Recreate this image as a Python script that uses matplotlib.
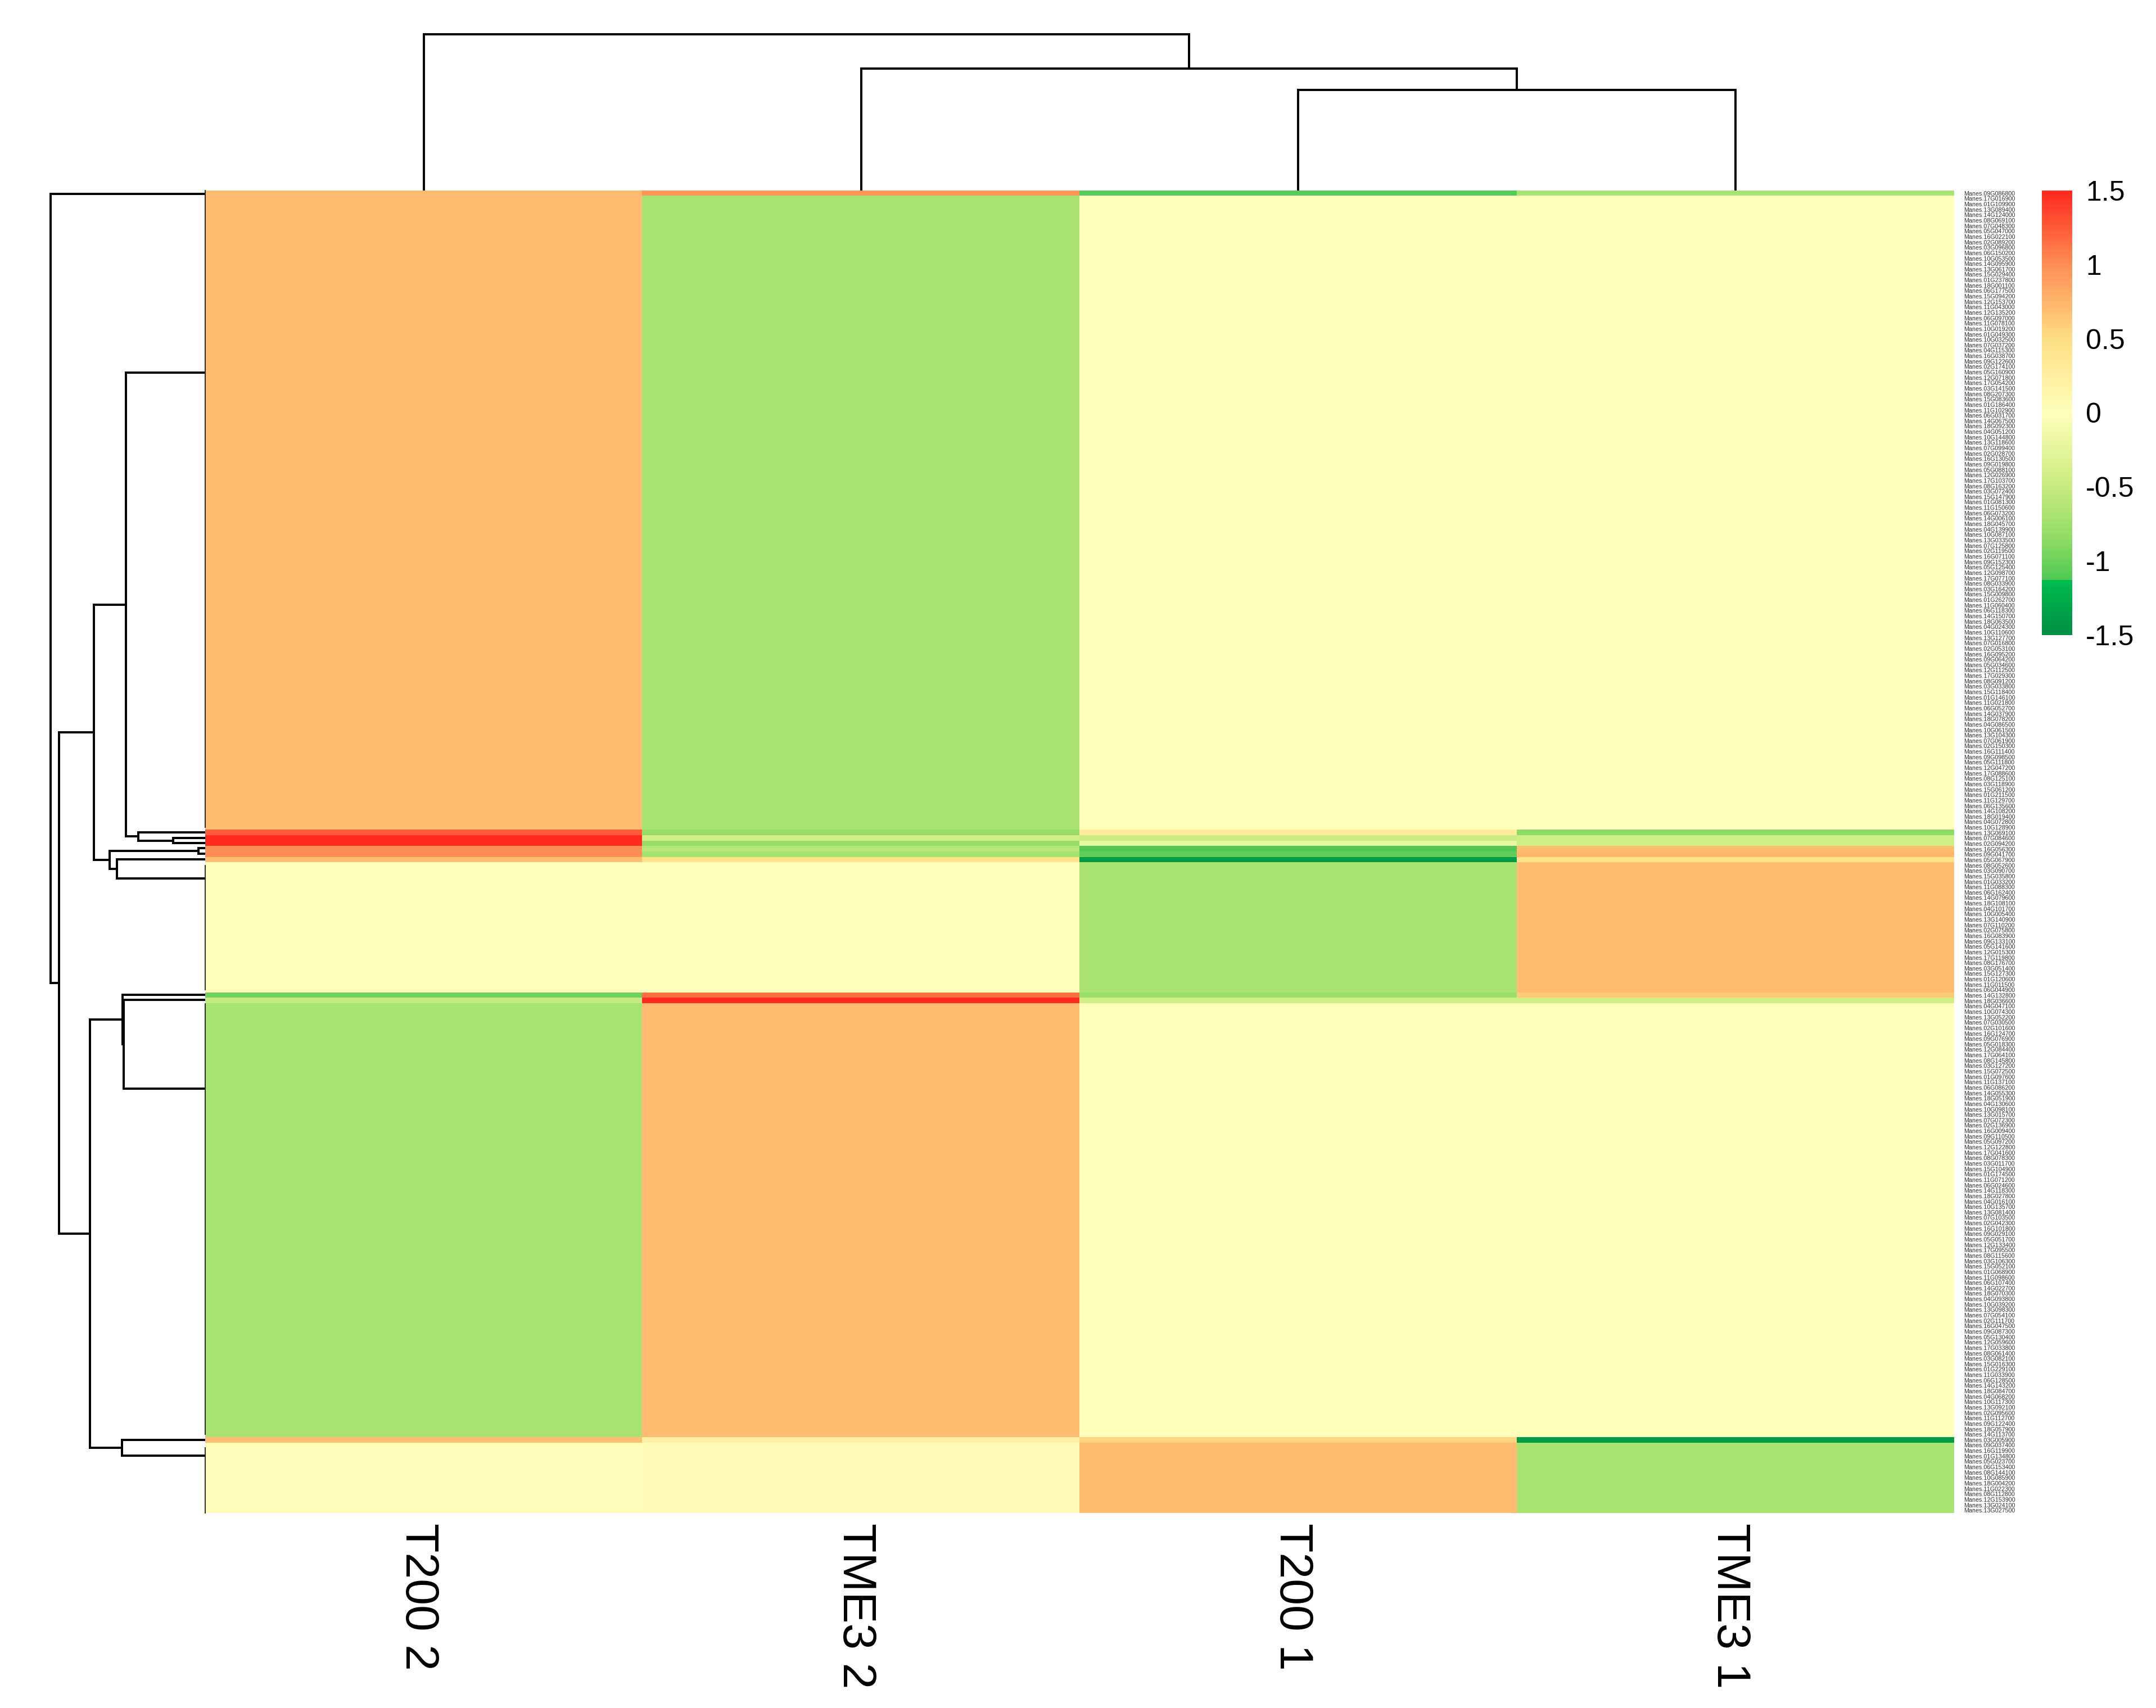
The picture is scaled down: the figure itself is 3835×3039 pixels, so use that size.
# -*- coding: utf-8 -*-

import numpy as np
import matplotlib
matplotlib.use('Agg')
import matplotlib.pyplot as plt
from matplotlib.colors import LinearSegmentedColormap
from matplotlib.transforms import ScaledTranslation

plt.rcParams['font.family'] = ['Liberation Sans', 'DejaVu Sans']

W, H = 3835, 3039

columns = ['T200 2', 'TME3 2', 'T200 1', 'TME3 1']

# heatmap rows as runs: how many rows share each set of values
run_counts = [1, 117, 1, 1, 1, 1, 1, 1, 24, 1, 1, 80, 1, 13]
t200_2 = [0.72, 0.71, 1.25, 1.49, 1.49, 1.0, 1.0, 0.68, 0.0, -1.0, -0.5, -0.71, 0.7, 0.02]
tme3_2 = [0.95, -0.71, -0.8, -0.4, -0.8, -0.6, -0.72, 0.45, 0.0, 1.15, 1.49, 0.71, 0.22, 0.03]
t200_1 = [-1.1, 0.0, 0.3, -0.48, -0.2, -1.12, -1.05, -1.4, -0.71, -0.78, -0.44, 0.0, 0.55, 0.71]
tme3_1 = [-0.7, 0.0, -0.85, -0.44, -0.44, 0.7, 0.75, 0.45, 0.71, 0.62, -0.44, 0.0, -1.4, -0.71]

# most of these are too small to read, so they are best guesses
gene_ids = """
09G086800 17G016900 01G109900 13G089400 14G124000 08G069100 07G048300 05G047000 16G022100 02G089200
03G096800 06G150200 10G053500 14G095900 13G061700 15G029400 01G237800 18G001100 06G177500 15G094200
12G153700 11G043000 12G135200 06G097000 11G078100 10G019200 01G049300 10G032500 07G037200 04G115300
16G038700 09G122600 02G174100 05G160900 12G071800 17G054200 03G141500 08G207300 15G083600 01G186400
11G102900 06G031700 14G067500 18G092300 04G051200 10G144800 13G118600 07G099400 02G028700 16G130500
09G019800 05G088100 12G026900 17G103700 08G163200 03G072400 15G147900 01G081300 11G150600 06G073200
14G006100 18G045700 04G139900 10G087100 13G033500 07G125800 02G119500 16G071100 09G152300 05G125400
12G098700 17G077100 08G033900 03G164200 15G009800 01G262700 11G060400 06G118300 14G150700 18G063500
04G024300 10G110600 13G127700 07G016800 02G053100 16G095200 09G064200 05G034600 12G112500 17G029300
08G091200 03G033800 15G118400 01G146100 11G021800 06G052700 14G037900 18G078200 04G086500 10G061500
13G104300 07G061900 02G150300 16G111400 09G098500 05G111800 12G047200 17G088600 08G125100 03G118900
15G061200 01G211500 11G129700 06G135600 14G108200 18G019400 04G072800 10G128900 13G069100 07G084600
02G094200 16G056300 09G041700 05G067900 08G052600 03G090700 15G035800 01G033200
11G088300 06G162400 14G079600 18G108100 04G101700 10G005400 13G140900 07G110200 02G075800 16G083900
09G133100 05G141600 12G015300 17G119800 08G176700 03G051400 15G127300 01G120600 11G011500 06G044900
14G132800 18G036600 04G047100 10G074300 13G052200 07G030500 02G101600 16G124700 09G076900 05G018300
12G084400 17G064100 08G145800 03G127200 15G072500 01G097600 11G137100 06G086200 14G055300 18G051900
04G130600 10G098100 13G015700 07G072300 02G136900 16G009400 09G110500 05G097200 12G122800 17G041600
08G078300 03G011700 15G104900 01G174500 11G071200 06G024600 14G118300 18G027800 04G016100 10G135700
13G081400 07G103500 02G042300 16G101800 09G029100 05G051700 12G133400 17G095500 08G115600 03G106300
15G052100 01G068900 11G098600 06G107400 14G022700 18G070300 04G093800 10G039200 13G098300 07G054100
02G111700 16G047500 09G087300 05G130400 12G059600 17G033800 08G061400 03G082100 15G016300 01G229100
11G033900 06G128500 14G143200 18G084700 04G068200 10G117300 13G092100 02G095600 11G112700 09G122400
18G057900 14G113700 03G005900 09G037400 16G119900 01G134800 05G023700 06G153400 08G144100 10G085900
18G004200 11G022300 08G112800 12G153900 13G024100 13G027500
""".split()
row_labels = ['Manes.' + g for g in gene_ids]

# dendrograms: (merge height, child, child), a plain number is a leaf position
row_tree = (275, 0.12,
            (260,
             (198,
              (141, 33.1, (119, 117.9, (57, 118.97, 119.9))),
              (170, (12, 120.8, 121.9), (157, 122.9, 126.4))),
             (205,
              (147, 147.9, (145.5, 148.8, 165.2)),
              (148, 230.0, 232.9))))
col_tree = (278, 0, (217, 1, (179, 2, 3)))

# runs of rows whose merges sit at height zero, they show as a thin line
flat_runs = [(-0.5, 117.0), (124.0, 147.0), (149.5, 229.0), (231.5, 243.5)]

cbar_ticks = [1.5, 1, 0.5, 0, -0.5, -1, -1.5]
cbar_labels = ['1.5', '1', '0.5', '0', '-0.5', '-1', '-1.5']

cmap_vals = [-1.5, -1.14, -1.13, -0.9, -0.71, -0.4, 0, 0.5, 0.71, 1.0, 1.5]
cmap_cols = ['#008F45', '#00BC4E', '#50C855', '#84D962', '#A9E371', '#D5F08A',
             '#FFFFBB', '#FFDF85', '#FFBC70', '#FF8F55', '#FF2A20']
heat_cmap = LinearSegmentedColormap.from_list(
    'heat', [((v + 1.5) / 3, c) for v, c in zip(cmap_vals, cmap_cols)], N=512)


def _axes_px(fig, left, top, right, bottom):
    """Add axes placed by pixel edges of the final picture."""
    return fig.add_axes([left / W, 1 - bottom / H, (right - left) / W,
                         (bottom - top) / H])


def _draw_tree(ax, node, horizontal):
    """Draw one dendrogram node, returns (position, height) of that node."""
    if not isinstance(node, tuple):
        return node, 0
    height, a, b = node
    pa, ha = _draw_tree(ax, a, horizontal)
    pb, hb = _draw_tree(ax, b, horizontal)
    xs = [ha, height, height, hb]
    ys = [pa, pa, pb, pb]
    if not horizontal:
        xs, ys = ys, xs
    ax.plot(xs, ys, color='black', lw=0.95, clip_on=False,
            solid_joinstyle='miter', solid_capstyle='butt')
    return (pa + pb) / 2, height


fig = plt.figure(figsize=(W / 300, H / 300), dpi=300, facecolor='white')

# main heatmap
values = np.column_stack([np.repeat(c, run_counts)
                          for c in (t200_2, tme3_2, t200_1, tme3_1)])
ax = _axes_px(fig, 365, 339, 3476, 2692)
ax.imshow(values, cmap=heat_cmap, vmin=-1.5, vmax=1.5, aspect='auto',
          interpolation='nearest')
for s in ax.spines.values():
    s.set_visible(False)
ax.set_xticks(range(len(columns)))
ax.set_xticklabels(columns, rotation=270, fontsize=20.2, ha='center', va='top')
ax.set_yticks(range(len(row_labels)))
ax.set_yticklabels(row_labels, fontsize=2.6, color='#333333')
ax.set_xlim(-0.5, len(columns) - 0.5)
ax.set_ylim(len(row_labels) - 0.5, -0.5)
ax.yaxis.tick_right()
ax.tick_params(axis='x', length=0, pad=4.3)
ax.tick_params(axis='y', length=0, pad=4)
# column names sit a little left of the column centres
nudge = ScaledTranslation(-10 / 300, 0, fig.dpi_scale_trans)
for lab in ax.get_xticklabels():
    lab.set_transform(lab.get_transform() + nudge)

# row dendrogram
ax_row = _axes_px(fig, 0, 339, 365, 2692)
ax_row.set_xlim(365, 0)
ax_row.set_ylim(ax.get_ylim())
ax_row.axis('off')
_draw_tree(ax_row, row_tree, True)
for y0, y1 in flat_runs:
    ax_row.plot([0, 0], [y0, y1], color='#222222', lw=0.45, clip_on=False)

# column dendrogram
ax_col = _axes_px(fig, 365, 0, 3476, 339)
ax_col.set_xlim(ax.get_xlim())
ax_col.set_ylim(0, 339)
ax_col.axis('off')
_draw_tree(ax_col, col_tree, False)

# colour bar
ax_bar = _axes_px(fig, 3632, 339, 3685, 1130)
ramp = np.linspace(1.5, -1.5, 300).reshape(-1, 1)
ax_bar.imshow(ramp, cmap=heat_cmap, vmin=-1.5, vmax=1.5, aspect='auto',
              extent=[0, 1, -1.5, 1.5], interpolation='nearest')
for s in ax_bar.spines.values():
    s.set_visible(False)
ax_bar.set_xticks([])
ax_bar.yaxis.tick_right()
ax_bar.set_yticks(cbar_ticks)
ax_bar.set_yticklabels(cbar_labels, fontsize=12)
ax_bar.tick_params(axis='y', length=0, pad=6)

fig.savefig('out.png', dpi=300, facecolor='white')
print(len(row_labels))
